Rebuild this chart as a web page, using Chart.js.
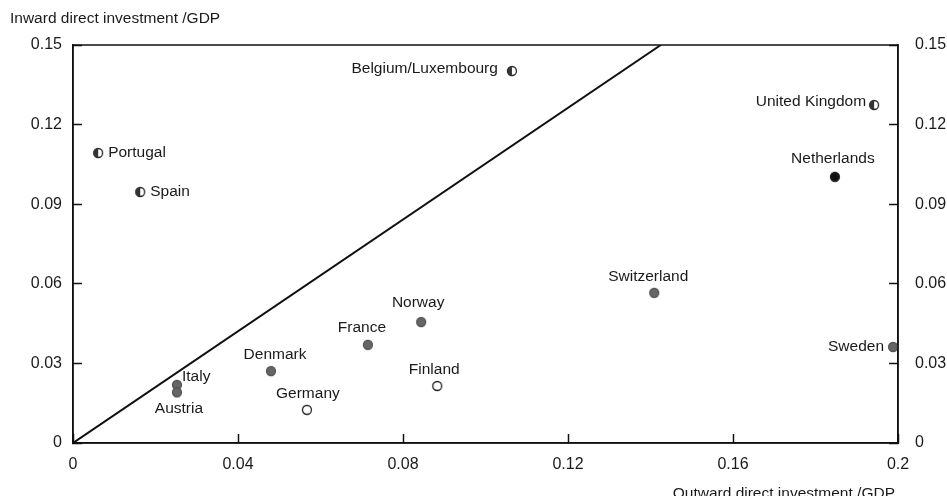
<!DOCTYPE html>
<html>
<head>
<meta charset="utf-8">
<script src="https://cdn.jsdelivr.net/npm/chart.js@4/dist/chart.umd.min.js"></script>
<style>
  html, body { margin: 0; padding: 0; background: #fff; }
  #wrap { width: 947px; height: 496px; }
</style>
</head>
<body>
<div id="wrap"><canvas id="fdiChart"></canvas></div>
<script>
// values
let countries = ["Portugal", "Spain", "Belgium/Luxembourg", "United Kingdom", "Netherlands",
  "Switzerland", "Sweden", "Norway", "France", "Finland", "Denmark", "Germany", "Italy", "Austria"]
let outward = [0.0061, 0.0163, 0.1064, 0.1942, 0.1847, 0.1409, 0.1988, 0.0844, 0.0715, 0.0883, 0.0480, 0.0567, 0.0252, 0.0252]
let inward  = [0.1093, 0.0946, 0.1402, 0.1274, 0.1003, 0.0566, 0.0362, 0.0456, 0.0370, 0.0215, 0.0271, 0.0125, 0.0219, 0.0191]
let diagonalX = [0, 0.1425]
let diagonalY = [0, 0.15]
let xTicks = [0, 0.04, 0.08, 0.12, 0.16, 0.2]
let yTicks = [0, 0.03, 0.06, 0.09, 0.12, 0.15]

// marker look and label placement per country
let look = {
  "Portugal": ["half", 10, 0, "left"],
  "Spain": ["half", 10, 0, "left"],
  "Belgium/Luxembourg": ["half", -14, -2, "right"],
  "United Kingdom": ["half", -8, -3, "right"],
  "Netherlands": ["black", -2, -18, "center"],
  "Switzerland": ["gray", -6, -16, "center"],
  "Sweden": ["gray", -9, 0, "right"],
  "Norway": ["gray", -3, -19, "center"],
  "France": ["gray", -6, -17, "center"],
  "Finland": ["open", -3, -16, "center"],
  "Denmark": ["gray", 4, -16, "center"],
  "Germany": ["open", 1, -16, "center"],
  "Italy": ["gray", 5, -8, "left"],
  "Austria": ["gray", 2, 16, "center"]
}

function makeMarker(kind) {
  let c = document.createElement("canvas")
  c.width = 12
  c.height = 12
  let g = c.getContext("2d")
  g.beginPath()
  g.arc(6, 6, 4.5, 0, Math.PI * 2)
  if (kind == "black") { g.fillStyle = "#111"; g.fill() }
  if (kind == "gray") { g.fillStyle = "#666"; g.fill() }
  if (kind == "open" || kind == "half") { g.fillStyle = "#fff"; g.fill() }
  g.lineWidth = 1.3
  g.strokeStyle = kind == "gray" ? "#555" : "#222"
  g.stroke()
  if (kind == "half") {
    g.beginPath()
    g.arc(6, 6, 4.5, Math.PI * 0.5, Math.PI * 1.5)
    g.fillStyle = "#333"
    g.fill()
  }
  return c
}

let points = countries.map((c, i) => ({ x: outward[i], y: inward[i] }))
let markers = countries.map(c => makeMarker(look[c][0]))

let labelPlugin = {
  id: "labels",
  afterDatasetsDraw(chart) {
    let ctx = chart.ctx
    let meta = chart.getDatasetMeta(0)
    ctx.save()
    ctx.fillStyle = "#1a1a1a"
    ctx.font = "15.5px 'Liberation Sans', Arial, sans-serif"
    ctx.textBaseline = "middle"
    meta.data.forEach((el, i) => {
      let l = look[countries[i]]
      ctx.textAlign = l[3]
      ctx.fillText(countries[i], el.x + l[1], el.y + l[2])
    })
    ctx.restore()
  },
  afterDraw(chart) {
    let ctx = chart.ctx
    let a = chart.chartArea
    ctx.save()
    ctx.strokeStyle = "#111"
    ctx.lineWidth = 1.5
    ctx.strokeRect(a.left, a.top, a.right - a.left, a.bottom - a.top)
    ctx.fillStyle = "#1a1a1a"
    ctx.font = "15.5px 'Liberation Sans', Arial, sans-serif"
    ctx.textBaseline = "middle"
    ctx.textAlign = "left"
    ctx.fillText("Inward direct investment /GDP", 10, 19)
    ctx.textAlign = "right"
    ctx.fillText("Outward direct investment /GDP", a.right - 3, 494)
    ctx.restore()
  }
}

let fmt = v => String(parseFloat(Number(v).toFixed(2)))
let tickFont = { family: "'Liberation Sans', Arial, sans-serif", size: 16 }

let canvasElement = document.getElementById("fdiChart")
let config = {
  type: "scatter",
  data: {
    datasets: [
      {
        label: "countries",
        data: points,
        pointStyle: markers,
        pointRadius: 5,
        pointHoverRadius: 5
      },
      {
        type: "line",
        label: "diagonal",
        data: diagonalX.map((x, i) => ({ x: x, y: diagonalY[i] })),
        borderColor: "#111",
        borderWidth: 2,
        pointRadius: 0,
        fill: false
      }
    ]
  },
  options: {
    responsive: true,
    maintainAspectRatio: false,
    animation: false,
    layout: { padding: { top: 45, left: 0, right: 0, bottom: 0 } },
    plugins: { legend: { display: false }, tooltip: { enabled: false } },
    scales: {
      x: {
        type: "linear",
        min: 0,
        max: 0.2,
        afterBuildTicks: s => { s.ticks = xTicks.map(v => ({ value: v })) },
        afterFit: s => { s.height = 53 },
        border: { color: "#111", width: 1.5 },
        grid: { drawOnChartArea: false, tickLength: -9, color: "#111", tickWidth: 1.5 },
        ticks: { color: "#1a1a1a", font: tickFont, padding: 21, maxRotation: 0, callback: fmt }
      },
      y: {
        type: "linear",
        position: "left",
        min: 0,
        max: 0.15,
        afterBuildTicks: s => { s.ticks = yTicks.map(v => ({ value: v })) },
        afterFit: s => { s.width = 73 },
        border: { color: "#111", width: 1.5 },
        grid: { drawOnChartArea: false, tickLength: -9, color: "#111", tickWidth: 1.5 },
        ticks: { color: "#1a1a1a", font: tickFont, padding: 20, callback: fmt }
      },
      y2: {
        type: "linear",
        position: "right",
        min: 0,
        max: 0.15,
        afterBuildTicks: s => { s.ticks = yTicks.map(v => ({ value: v })) },
        afterFit: s => { s.width = 49 },
        border: { color: "#111", width: 1.5 },
        grid: { drawOnChartArea: false, tickLength: -9, color: "#111", tickWidth: 1.5 },
        ticks: { color: "#1a1a1a", font: tickFont, padding: 26, callback: fmt }
      }
    }
  },
  plugins: [labelPlugin]
}
let fdiChart = new Chart(canvasElement, config)
</script>
</body>
</html>
